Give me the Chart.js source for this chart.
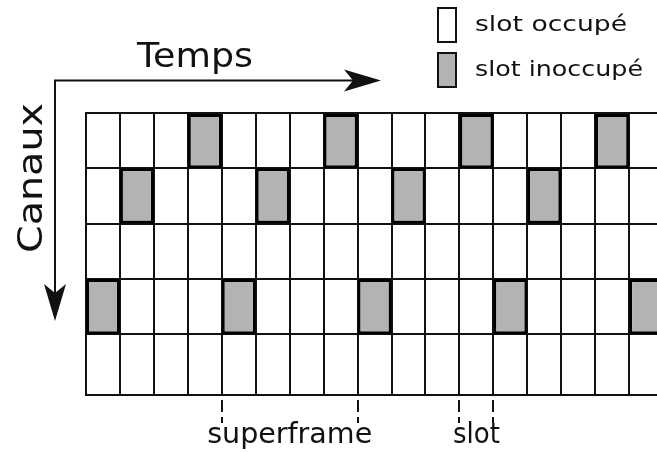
<!DOCTYPE html>
<html>
<head>
<meta charset="utf-8">
<script src="https://cdn.jsdelivr.net/npm/chart.js@4.4.0/dist/chart.umd.min.js"></script>
<style>
  html, body { margin: 0; padding: 0; background: #fff; overflow: hidden; }
</style>
</head>
<body>
<canvas id="grille" width="657" height="452"></canvas>
<script>
// donnees
let canaux = ['Canal 1', 'Canal 2', 'Canal 3', 'Canal 4', 'Canal 5'];
let bords_canaux = [0, 1, 2, 3, 4, 5.1];
let slots = [0, 1, 2, 3, 4, 5, 6, 7, 8, 9, 10, 11, 12, 13, 14, 15, 16];
let slots_inoccupes = [[3, 7, 11, 15], [1, 5, 9, 13], [], [0, 4, 8, 12, 16], []];
let slots_visibles = 16.82;
let reperes_superframe = [4, 8];
let reperes_slot = [11, 12];
let legende = ['slot occupé', 'slot inoccupé'];
let titre_temps = 'Temps';
let titre_canaux = 'Canaux';

const police = '"DejaVu Sans", sans-serif';
const gris = '#b3b3b3';

function estInoccupe(canal, slot) {
    return slots_inoccupes[canal].includes(slot);
}

// une serie par canal, un bloc par slot ; les slots occupes restent blancs
let datasets = canaux.map((canal, r) => {
    return {
        label: canal,
        data: slots.map((s) => {
            return { x: s + 0.5, y: [bords_canaux[r], bords_canaux[r + 1]] };
        }),
        backgroundColor: (ctx) => estInoccupe(r, ctx.dataIndex) ? gris : 'rgba(0,0,0,0)',
        borderColor: '#000000',
        borderWidth: (ctx) => estInoccupe(r, ctx.dataIndex) ? 3 : 0,
        borderSkipped: false,
        inflateAmount: 0
    };
});

function fleche(ctx, x, y, angle) {
    ctx.save();
    ctx.translate(x, y);
    ctx.rotate(angle);
    ctx.beginPath();
    ctx.moveTo(0, 0);
    ctx.lineTo(-37, -11);
    ctx.lineTo(-28, 0);
    ctx.lineTo(-37, 11);
    ctx.closePath();
    ctx.fill();
    ctx.restore();
}

// texte etire horizontalement pour imiter la police large de la figure
function texte(ctx, str, x, y, taille, largeur, align) {
    ctx.save();
    ctx.font = taille + 'px ' + police;
    let w = ctx.measureText(str).width;
    ctx.translate(x, y);
    ctx.scale(largeur / w, 1);
    ctx.textAlign = align;
    ctx.textBaseline = 'alphabetic';
    ctx.fillText(str, 0, 0);
    ctx.restore();
}

const decor = {
    id: 'decor',
    afterDraw(chart) {
        const ctx = chart.ctx;
        const echelle = chart.scales.x;
        const bas = chart.chartArea.bottom;
        ctx.save();
        ctx.strokeStyle = '#111';
        ctx.fillStyle = '#111';

        // axes fleches
        ctx.lineWidth = 2;
        ctx.beginPath();
        ctx.moveTo(55, 300);
        ctx.lineTo(55, 80.5);
        ctx.lineTo(360, 80.5);
        ctx.stroke();
        fleche(ctx, 381, 80.5, 0);
        fleche(ctx, 55, 321, Math.PI / 2);

        texte(ctx, titre_temps, 137, 67, 33, 116, 'left');

        ctx.save();
        ctx.translate(42, 178);
        ctx.rotate(-Math.PI / 2);
        texte(ctx, titre_canaux, 0, 0, 34, 150, 'center');
        ctx.restore();

        // legende
        ctx.lineWidth = 2;
        ctx.fillStyle = '#ffffff';
        ctx.fillRect(438, 8, 18, 34);
        ctx.strokeRect(438, 8, 18, 34);
        ctx.fillStyle = gris;
        ctx.fillRect(438, 53, 18, 34);
        ctx.strokeRect(438, 53, 18, 34);
        ctx.fillStyle = '#111';
        texte(ctx, legende[0], 475, 31, 22, 152, 'left');
        texte(ctx, legende[1], 475, 76, 22, 168, 'left');

        // reperes en pointilles
        ctx.setLineDash([12, 5]);
        ctx.lineWidth = 2;
        reperes_superframe.concat(reperes_slot).forEach((v) => {
            let px = Math.round(echelle.getPixelForValue(v));
            ctx.beginPath();
            ctx.moveTo(px, bas + 5);
            ctx.lineTo(px, bas + 28);
            ctx.stroke();
        });
        ctx.setLineDash([]);

        let cx1 = (echelle.getPixelForValue(reperes_superframe[0]) + echelle.getPixelForValue(reperes_superframe[1])) / 2;
        texte(ctx, 'superframe', cx1, 443, 28, 165, 'center');
        let cx2 = (echelle.getPixelForValue(reperes_slot[0]) + echelle.getPixelForValue(reperes_slot[1])) / 2;
        texte(ctx, 'slot', cx2, 443, 28, 47, 'center');
        ctx.restore();
    }
};

const grille = { color: '#111', lineWidth: 2, drawTicks: false, offset: false };
const bord = { display: true, color: '#111', width: 2 };

let myChart = new Chart(document.querySelector('#grille').getContext('2d'), {
    type: 'bar',
    data: { datasets: datasets },
    options: {
        responsive: false,
        animation: false,
        devicePixelRatio: 1,
        events: [],
        layout: { padding: { left: 86, top: 113, right: 0, bottom: 57 } },
        datasets: { bar: { grouped: false, barPercentage: 1, categoryPercentage: 1 } },
        scales: {
            x: {
                type: 'linear', min: 0, max: slots_visibles, offset: false,
                grid: grille, border: bord, ticks: { display: false },
                afterBuildTicks: (axis) => { axis.ticks = slots.map((v) => ({ value: v })); }
            },
            y: {
                type: 'linear', min: 0, max: bords_canaux[bords_canaux.length - 1], reverse: true,
                grid: grille, border: bord, ticks: { display: false },
                afterBuildTicks: (axis) => { axis.ticks = bords_canaux.map((v) => ({ value: v })); }
            }
        },
        plugins: { legend: { display: false }, tooltip: { enabled: false } }
    },
    plugins: [decor]
});
</script>
</body>
</html>
